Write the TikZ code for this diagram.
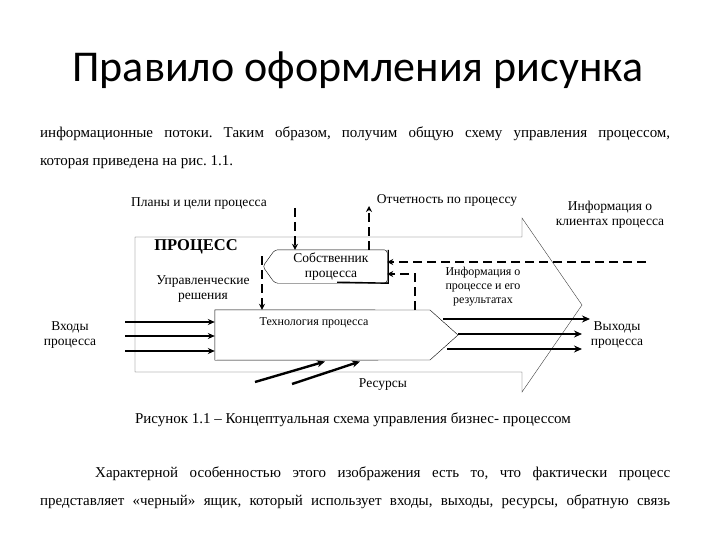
\documentclass[tikz,border=0pt]{standalone}
\usepackage{fontspec}
\setmainfont{Liberation Serif}
\newfontfamily\titlefont{Carlito}
\usetikzlibrary{arrows.meta,positioning}
\frenchspacing
\tikzset{
    lbl/.style={font=\fontsize{13.5}{15}\selectfont, align=center, inner sep=0pt},
    bodyline/.style={font=\fontsize{15}{18}\selectfont, anchor=base west, inner sep=0pt},
    fbline/.style={line width=2.4pt, dash pattern=on 9pt off 5pt, -{Stealth[length=6pt,width=6pt]}},
    inarrow/.style={line width=1.3pt, -{Stealth[length=7pt,width=6pt]}},
    outarrow/.style={line width=2.4pt, -{Stealth[length=8pt,width=7pt]}},
}

\begin{document}
\begin{tikzpicture}[x=1pt,y=-1pt]
\useasboundingbox [fill=white] (0,0) rectangle (720,540);

\node [font=\titlefont\fontsize{44}{50}\selectfont, inner sep=0pt] (title) at (358,70) {Правило оформления рисунка};

\node [bodyline] (txtA) at (40,138) {\makebox[630pt][s]{информационные потоки. Таким образом, получим общую схему управления процессом,}};
\node [bodyline] (txtB) at (40,166) {которая приведена на рис. 1.1.};

%% big process arrow
\draw [thin, black!75] (135,237) -- (522,237) -- (522,218) -- (582,305) -- (522,392) -- (522,372) -- (135,372) -- cycle;
\node [font=\bfseries\fontsize{16.5}{18}\selectfont, inner sep=0pt] (proc) at (196,247) {ПРОЦЕСС};

%% technology of the process
\node [minimum width=215pt, minimum height=50pt, inner sep=0pt] (tech) at (322.5,335) {};
\draw [thin] (tech.north west) -- (430,310) -- (458,335) -- (430,360) -- (tech.south west) -- cycle;
\node [lbl, font=\fontsize{12}{13}\selectfont] (techlbl) at (314,323) {Технология процесса};

%% owner box
\node [lbl, minimum width=112pt, minimum height=33pt] (owner) at (331,266.5) {Собственник\\процесса};
\draw [thin, rounded corners=3pt] (owner.north east) -- (owner.north west) -- ([xshift=-12pt]owner.west) -- (owner.south west) -- (owner.south east) -- cycle;
\draw [line width=1.4pt] ([xshift=1pt]owner.north east) -- ([xshift=1pt]owner.south east) -- ([xshift=-50pt,yshift=1pt]owner.south east);

%% labels
\node [lbl] (plans) at (199,204) {Планы и цели процесса};
\node [lbl] (report) at (447,200) {Отчетность по процессу};
\node [lbl] (clients) at (610,215) {Информация о\\клиентах процесса};
\node [lbl] (mgmt) at (203,289) {Управленческие\\решения};
\node [lbl, font=\fontsize{12}{14}\selectfont] (procinfo) at (483,287) {Информация о\\процессе и его\\результатах};
\node [lbl] (inputs) at (70,335.5) {Входы\\процесса};
\node [lbl] (outputs) at (617,335.5) {Выходы\\процесса};
\node [lbl] (res) at (383,385) {Ресурсы};

%% control and feedback
\coordinate (plantop) at (295,208);
\coordinate (reptop) at (369,206);
\coordinate (notch) at (262,256);
\coordinate (clientend) at (646,262);
\coordinate (infofoot) at (415,310);
\draw [fbline] (plantop) -- (plantop |- owner.north);
\draw [fbline] (reptop |- owner.north) -- (reptop);
\draw [fbline] (notch) -- (notch |- tech.north);
\draw [fbline] (clientend) -- (owner.east |- clientend);
\draw [fbline] (infofoot) -- (415,274) -- (owner.east |- 0,274);

%% inputs, outputs, resources
\foreach \y in {322,336,351}
    \draw [inarrow] (125,\y) -- (tech.west |- 0,\y);
\draw [outarrow] (443,319) -- (590,319);
\draw [outarrow] (458,334) -- (582,334);
\draw [outarrow] (447,349) -- (582,349);
\draw [outarrow] (255,382) -- (325,361.5);
\draw [outarrow] (292,384) -- (360,361.5);

\node [bodyline, anchor=base] (caption) at (353,423) {Рисунок 1.1 – Концептуальная схема управления бизнес- процессом};
\node [bodyline] (txtC) at (95,477) {\makebox[575pt][s]{Характерной особенностью этого изображения есть то, что фактически процесс}};
\node [bodyline] (txtD) at (40,505) {\makebox[630pt][s]{представляет «черный» ящик, который использует входы, выходы, ресурсы, обратную связь}};
\end{tikzpicture}
\end{document}
